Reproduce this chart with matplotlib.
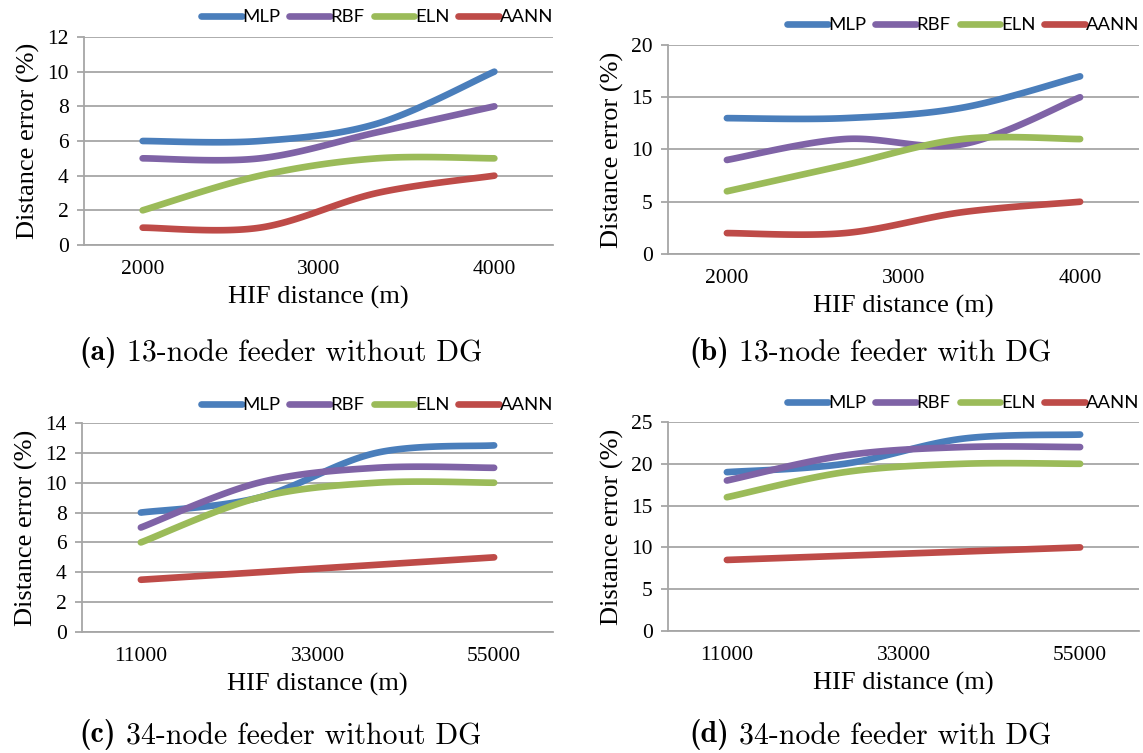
import numpy as np
import matplotlib
matplotlib.use('Agg')
import matplotlib.pyplot as plt

# series names and colours (Excel defaults)
series = ['MLP', 'RBF', 'ELN', 'AANN']
colors = ['#4A7EBB', '#7F63A6', '#9BBB59', '#BE4B48']

# 13-node feeder: HIF distance (m)
x_13 = [2000, 2667, 3333, 4000]
ticks_13 = [2000, 3000, 4000]
# (a) without DG
a_mlp = [6, 6, 7, 10]
a_rbf = [5, 5, 6.5, 8]
a_eln = [2, 4, 5, 5]
a_aann = [1, 1, 3, 4]
# (b) with DG
b_mlp = [13, 13, 14, 17]
b_rbf = [9, 11, 10.5, 15]
b_eln = [6, 8.5, 11, 11]
b_aann = [2, 2, 4, 5]

# 34-node feeder
x_34 = [11000, 25667, 40333, 55000]
ticks_34 = [11000, 33000, 55000]
# (c) without DG
c_mlp = [8, 9, 12, 12.5]
c_rbf = [7, 10, 11, 11]
c_eln = [6, 9, 10, 10]
c_aann = [3.5, 4, 4.5, 5]
# (d) with DG
d_mlp = [19, 20, 23, 23.5]
d_rbf = [18, 21, 22, 22]
d_eln = [16, 19, 20, 20]
d_aann = [8.5, 9, 9.5, 10]

captions = [('(a)', ' 13-node feeder without DG'),
            ('(b)', ' 13-node feeder with DG'),
            ('(c)', ' 34-node feeder without DG'),
            ('(d)', ' 34-node feeder with DG')]


def smooth(x, y, n=40):
    # Excel-like smoothed line (Bezier through the points)
    pts = np.column_stack([x, y]).astype(float)
    P = np.vstack([pts[0], pts, pts[-1]])
    t = np.linspace(0, 1, n)[:, None]
    out = []
    for i in range(len(pts) - 1):
        p0, p1, p2, p3 = P[i], P[i + 1], P[i + 2], P[i + 3]
        c1 = p1 + (p2 - p0) / 6
        c2 = p2 - (p3 - p1) / 6
        seg = (1 - t)**3 * p1 + 3 * (1 - t)**2 * t * c1 + 3 * (1 - t) * t**2 * c2 + t**3 * p2
        out.append(seg if i == 0 else seg[1:])
    out = np.vstack(out)
    return out[:, 0], out[:, 1]


panels = [
    dict(x=x_13, ticks=ticks_13, data=[a_mlp, a_rbf, a_eln, a_aann], ymax=12, ystep=2,
         rect=[84, 37, 553, 245], leg_y=17),
    dict(x=x_13, ticks=ticks_13, data=[b_mlp, b_rbf, b_eln, b_aann], ymax=20, ystep=5,
         rect=[668, 45, 1139, 254], leg_y=25),
    dict(x=x_34, ticks=ticks_34, data=[c_mlp, c_rbf, c_eln, c_aann], ymax=14, ystep=2,
         rect=[82, 423, 553, 632], leg_y=405),
    dict(x=x_34, ticks=ticks_34, data=[d_mlp, d_rbf, d_eln, d_aann], ymax=25, ystep=5,
         rect=[668, 422, 1139, 631], leg_y=403),
]
cap_pos = [(79, 352), (689, 352), (79, 735), (689, 735)]

W, H = 1143, 753
fig = plt.figure(figsize=(W / 100, H / 100), dpi=100)
grid_col = '#A6A6A6'
serif = 'Liberation Serif'

for p, (bold, rest), (cx, cy) in zip(panels, captions, cap_pos):
    l, t, r, b = p['rect']
    ax = fig.add_axes([l / W, 1 - b / H, (r - l) / W, (b - t) / H])
    xs = p['x']
    step = xs[1] - xs[0]
    for name, col, ys in zip(series, colors, p['data']):
        sx, sy = smooth(xs, ys)
        ax.plot(sx, sy, color=col, lw=4.8, solid_capstyle='round', label=name)
    ax.set_xlim(xs[0] - step / 2, xs[-1] + step / 2)
    ax.set_ylim(0, p['ymax'])
    ax.set_yticks(np.arange(0, p['ymax'] + 0.1, p['ystep']))
    ax.set_xticks(p['ticks'])
    ax.set_xticklabels([str(v) for v in p['ticks']])
    ax.grid(axis='y', color=grid_col, lw=1.3)
    ax.set_axisbelow(True)
    for s in ['top', 'right']:
        ax.spines[s].set_visible(False)
    for s in ['left', 'bottom']:
        ax.spines[s].set_color(grid_col)
        ax.spines[s].set_linewidth(1.3)
    ax.tick_params(axis='y', length=5, width=1.3, color=grid_col, pad=6)
    ax.tick_params(axis='x', length=0, pad=11)
    for lab in ax.get_xticklabels() + ax.get_yticklabels():
        lab.set_fontfamily(serif)
        lab.set_fontsize(15.5)
    ax.set_ylabel('Distance error (%)', fontfamily=serif, fontsize=19, labelpad=5)
    ax.set_xlabel('HIF distance (m)', fontfamily=serif, fontsize=19, labelpad=5)
    leg = ax.legend(loc='center right', bbox_to_anchor=(1.0, (b - p['leg_y']) / (b - t)),
                    ncol=4, frameon=False, borderpad=0, borderaxespad=0,
                    handlelength=2.2, handletextpad=0.02, columnspacing=0.5,
                    prop={'family': 'Lato', 'size': 13.3})
    for h in leg.get_lines():
        h.set_linewidth(4.8)
        h.set_solid_capstyle('round')

    # caption below the panel
    t1 = fig.text(cx / W, 1 - cy / H, bold, family='cmb10', fontsize=21.5, va='center', ha='left')
    ax.annotate(rest, xy=(1, 0), xycoords=t1, va='bottom', ha='left',
                family='cmr10', fontsize=21.5, annotation_clip=False)

fig.savefig('out.png', dpi=100)
